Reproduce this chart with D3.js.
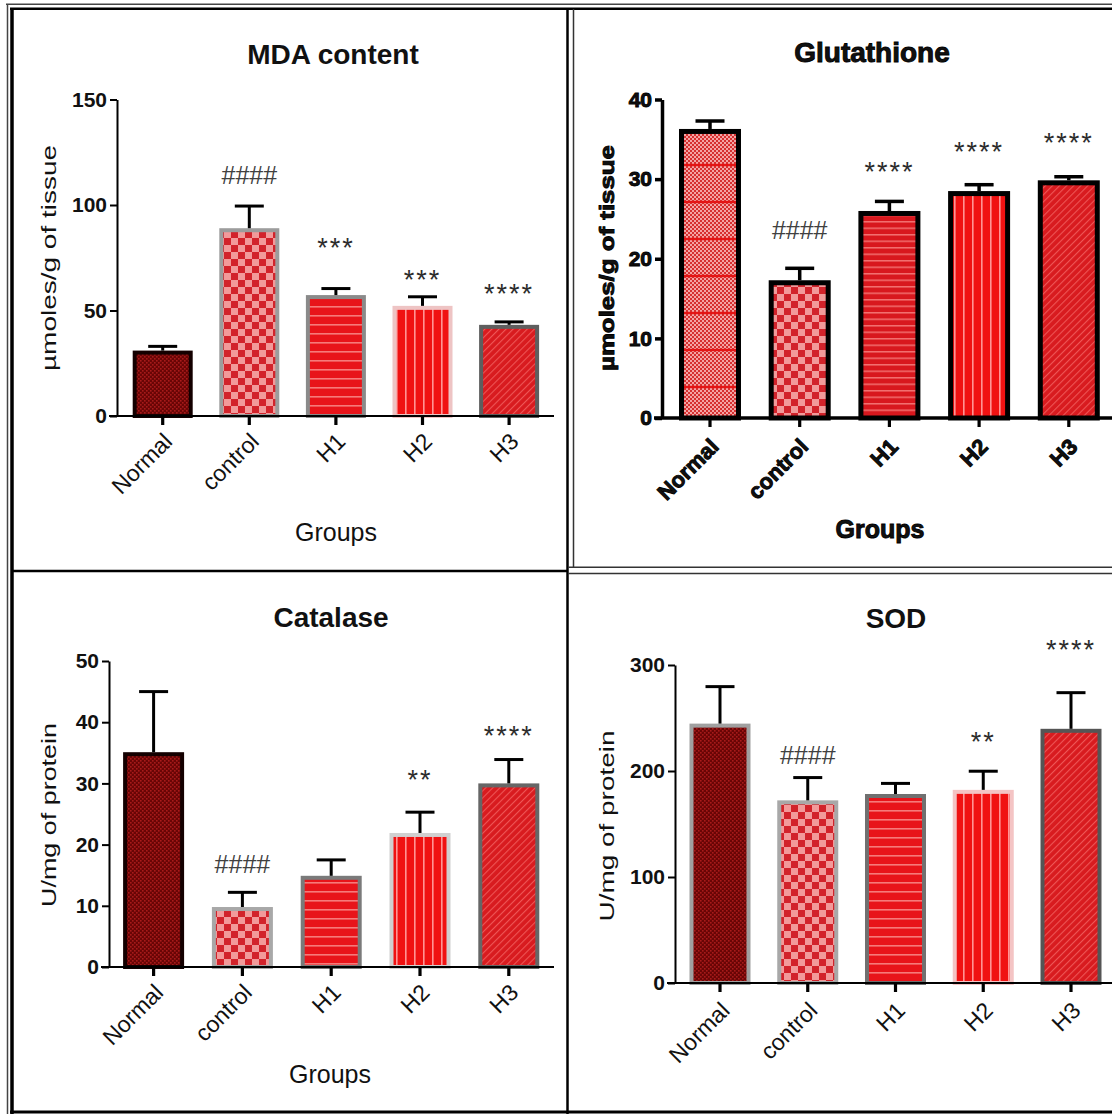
<!DOCTYPE html>
<html>
<head>
<meta charset="utf-8">
<script src="https://cdn.jsdelivr.net/npm/d3@7"></script>
<style>
  body { margin: 0; background: #fff; }
  svg { display: block; font-family: "Liberation Sans", Arial, sans-serif; }
</style>
</head>
<body>
<div id="chart"></div>
<script>
// Groups shared by the four panels
const groups = ["Normal", "control", "H1", "H2", "H3"];

// MDA content (µmoles/g of tissue)
const mdaMean = [31, 89, 57.3, 52.2, 43.2];
const mdaUpper = [33, 99.5, 60.4, 56.5, 44.6];
const mdaMarks = ["", "####", "***", "***", "****"];
const mdaMarkAt = [null, 114, 82.6, 67.4, 60.5];
const mdaTicks = [0, 50, 100, 150];

// Glutathione (µmoles/g of tissue)
const gshMean = [36.3, 17.3, 26.0, 28.5, 29.85];
const gshUpper = [37.3, 18.8, 27.2, 29.3, 30.3];
const gshMarks = ["", "####", "****", "****", "****"];
const gshMarkAt = [null, 23.5, 31.7, 34.2, 35.25];
const gshTicks = [0, 10, 20, 30, 40];

// Catalase (U/mg of protein)
const catMean = [35.1, 9.8, 14.9, 21.9, 30.0];
const catUpper = [45.0, 12.2, 17.5, 25.3, 33.9];
const catMarks = ["", "####", "", "**", "****"];
const catMarkAt = [null, 16.8, null, 31.6, 38.8];
const catTicks = [0, 10, 20, 30, 40, 50];

// SOD (U/mg of protein)
const sodMean = [244.7, 172.3, 178.3, 182.2, 239.8];
const sodUpper = [279.6, 193.8, 188.3, 199.8, 273.9];
const sodMarks = ["", "####", "", "**", "****"];
const sodMarkAt = [null, 214.8, null, 233.2, 320.2];
const sodTicks = [0, 100, 200, 300];

const svg = d3.select("#chart").append("svg")
    .attr("width", 1112)
    .attr("height", 1115);
const defs = svg.append("defs");

// Fill patterns (GraphPad style)
function makePattern(id, w, h, bg, draw, rot) {
    const p = defs.append("pattern")
        .attr("id", id)
        .attr("patternUnits", "userSpaceOnUse")
        .attr("width", w)
        .attr("height", h);
    if (rot) p.attr("patternTransform", `rotate(${rot})`);
    if (bg) p.append("rect").attr("width", w).attr("height", h).attr("fill", bg);
    draw(p);
}
const sq = (p, x, y, w, h, c) => p.append("rect").attr("x", x).attr("y", y).attr("width", w).attr("height", h).attr("fill", c);

makePattern("dots", 4, 4, "#6a0505", p => { sq(p, 0, 0, 1.6, 1.6, "#a81a1a"); sq(p, 2, 2, 1.6, 1.6, "#a81a1a"); });
makePattern("check", 14, 14, "#f29a9a", p => { sq(p, 0, 0, 7, 7, "#d2232b"); sq(p, 7, 7, 7, 7, "#d2232b"); });
makePattern("hstripe", 9, 9, "#e8141a", p => sq(p, 0, 0, 9, 1.6, "#f67a7a"));
makePattern("hstripeFine", 6.5, 6.5, "#d8181e", p => sq(p, 0, 0, 6.5, 1.5, "#f27070"));
makePattern("vstripe", 9, 9, "#f01212", p => sq(p, 0, 0, 1.6, 9, "#ff9494"));
makePattern("diag", 5, 5, "#d81b1f", p => sq(p, 0, 0, 1.1, 5, "#ee5656"), 45);
makePattern("fineCheck", 4, 4, "#f4a4a4", p => { sq(p, 0, 0, 2, 2, "#d63030"); sq(p, 2, 2, 2, 2, "#d63030"); });
makePattern("redLines", 10, 37, null, p => sq(p, 0, 15.8, 10, 2.4, "#e41414"));

// Frame lines around the four panels
function frameLine(x1, y1, x2, y2, w, c) {
    svg.append("line").attr("x1", x1).attr("y1", y1).attr("x2", x2).attr("y2", y2)
        .attr("stroke", c).attr("stroke-width", w);
}
frameLine(7.5, 4, 7.5, 1114, 1.5, "#444");
frameLine(12, 8, 12, 1114, 3.5, "#000");
frameLine(6, 4.2, 1112, 4.2, 1.5, "#444");
frameLine(10, 8.7, 1112, 8.7, 2.6, "#000");
frameLine(567.5, 8, 567.5, 1114, 2.5, "#000");
frameLine(573.5, 9, 573.5, 567, 1.5, "#333");
frameLine(12, 571, 568, 571, 2.6, "#000");
frameLine(568, 567.3, 1112, 567.3, 1.5, "#333");
frameLine(568, 573.5, 1112, 573.5, 1.5, "#333");
frameLine(10, 1112, 1112, 1112, 3, "#000");

function drawPanel(cfg) {
    const g = svg.append("g");
    const font = cfg.heavy ? "bold" : "normal";
    const heavyStroke = sel => {
        if (cfg.heavy) sel.attr("stroke", "#000").attr("stroke-width", 0.9);
    };

    const y = d3.scaleLinear().domain([0, cfg.yMax]).range([cfg.y0, cfg.yTop]);
    const pad = 1 - cfg.bw / cfg.step;
    const x = d3.scaleBand().domain(groups)
        .range([cfg.c0 - cfg.step / 2, cfg.c0 + 4.5 * cfg.step])
        .paddingInner(pad).paddingOuter(pad / 2);

    const rows = groups.map((k, i) => ({
        key: k, mean: cfg.mean[i], upper: cfg.upper[i],
        mark: cfg.marks[i], markAt: cfg.markAt[i],
        fills: cfg.fills[i], stroke: cfg.strokes[i]
    }));

    // bars: one rect per fill layer, then the border
    rows.forEach(d => {
        const sw = cfg.barStroke;
        const bx = x(d.key) + sw / 2, by = y(d.mean) + sw / 2;
        const bw = x.bandwidth() - sw, bh = y(0) - y(d.mean) - sw / 2;
        d.fills.forEach(f => {
            g.append("rect").attr("x", bx).attr("y", by).attr("width", bw).attr("height", bh)
                .attr("fill", `url(#${f})`);
        });
        g.append("rect").attr("x", bx).attr("y", by).attr("width", bw).attr("height", bh)
            .attr("fill", "none").attr("stroke", d.stroke).attr("stroke-width", sw);
    });

    // upper error bars
    const err = g.append("g").attr("stroke", "#000").attr("stroke-width", cfg.heavy ? 3.5 : 3);
    rows.forEach(d => {
        const cx = x(d.key) + x.bandwidth() / 2;
        err.append("line").attr("x1", cx).attr("x2", cx).attr("y1", y(d.mean)).attr("y2", y(d.upper));
        err.append("line").attr("x1", cx - 14.5).attr("x2", cx + 14.5).attr("y1", y(d.upper)).attr("y2", y(d.upper));
    });

    // significance marks
    rows.filter(d => d.mark).forEach(d => {
        const cx = x(d.key) + x.bandwidth() / 2;
        const star = d.mark[0] === "*";
        g.append("text")
            .attr("x", cx)
            .attr("y", y(d.markAt) + (star ? 15 : 8.5))
            .attr("text-anchor", "middle")
            .attr("font-size", star ? 27 : 25)
            .attr("letter-spacing", star ? 2 : 0)
            .attr("fill", star ? "#2c2c2c" : "#404040")
            .text(d.mark);
    });

    // y axis
    const yAxis = g.append("g")
        .attr("transform", `translate(${cfg.axisX},0)`)
        .call(d3.axisLeft(y).tickValues(cfg.ticks).tickSize(7).tickSizeOuter(0).tickPadding(3));
    yAxis.select(".domain").attr("stroke", "#000").attr("stroke-width", cfg.axisW);
    yAxis.selectAll(".tick line").attr("stroke", "#000").attr("stroke-width", cfg.axisW);
    yAxis.selectAll(".tick text")
        .attr("font-size", cfg.numSize).attr("font-weight", "bold")
        .attr("font-family", "Liberation Sans, Arial, sans-serif")
        .attr("fill", "#111").call(heavyStroke);

    // x axis
    g.append("line")
        .attr("x1", cfg.axisX - 8).attr("x2", cfg.axisEnd)
        .attr("y1", cfg.y0).attr("y2", cfg.y0)
        .attr("stroke", "#000").attr("stroke-width", cfg.axisW);
    const xAxis = g.append("g")
        .attr("transform", `translate(0,${cfg.y0})`)
        .call(d3.axisBottom(x).tickSize(9).tickSizeOuter(0));
    xAxis.select(".domain").remove();
    xAxis.selectAll(".tick line").attr("stroke", "#000").attr("stroke-width", 3.2);
    xAxis.selectAll(".tick text")
        .attr("x", 0).attr("y", 0).attr("dy", 0)
        .attr("transform", `translate(${cfg.lblDx},${cfg.lblDy}) rotate(-45)`)
        .attr("text-anchor", "end")
        .attr("font-size", cfg.catSize).attr("font-weight", font)
        .attr("font-family", "Liberation Sans, Arial, sans-serif")
        .attr("fill", "#111").call(heavyStroke);

    // title and axis titles
    g.append("text")
        .attr("x", cfg.titleX).attr("y", cfg.titleY)
        .attr("text-anchor", "middle")
        .attr("font-size", 28).attr("font-weight", "bold")
        .attr("fill", "#111")
        .call(heavyStroke)
        .text(cfg.title);

    g.append("text")
        .attr("transform", `translate(${cfg.yLabelX},${cfg.yLabelY}) rotate(-90)`)
        .attr("text-anchor", "middle")
        .attr("font-size", 21).attr("font-weight", font)
        .attr("textLength", cfg.yLabelLen).attr("lengthAdjust", "spacingAndGlyphs")
        .attr("fill", "#111")
        .call(heavyStroke)
        .text(cfg.yLabel);

    if (cfg.xLabel) {
        g.append("text")
            .attr("x", cfg.xLabelX).attr("y", cfg.xLabelY)
            .attr("text-anchor", "middle")
            .attr("font-size", 25).attr("font-weight", font)
            .attr("fill", "#111")
            .call(heavyStroke)
            .text(cfg.xLabel);
    }
}

drawPanel({
    title: "MDA content", titleX: 333, titleY: 64,
    yLabel: "µmoles/g of tissue", yLabelX: 56, yLabelY: 258, yLabelLen: 226,
    xLabel: "Groups", xLabelX: 336, xLabelY: 541,
    mean: mdaMean, upper: mdaUpper, marks: mdaMarks, markAt: mdaMarkAt, ticks: mdaTicks,
    yMax: 150, y0: 416, yTop: 99.5, axisX: 117, axisEnd: 554,
    c0: 162.7, step: 86.6, bw: 60, barStroke: 4, axisW: 2,
    numSize: 21, catSize: 23, lblDx: 11, lblDy: 27,
    fills: [["dots"], ["check"], ["hstripe"], ["vstripe"], ["diag"]],
    strokes: ["#140000", "#9c9c9c", "#8a8a8a", "#eec4c4", "#5e5e5e"]
});

drawPanel({
    title: "Glutathione", titleX: 872, titleY: 62, heavy: true,
    yLabel: "µmoles/g of tissue", yLabelX: 614, yLabelY: 258, yLabelLen: 226,
    xLabel: "Groups", xLabelX: 880, xLabelY: 538,
    mean: gshMean, upper: gshUpper, marks: gshMarks, markAt: gshMarkAt, ticks: gshTicks,
    yMax: 40, y0: 418, yTop: 99.5, axisX: 662, axisEnd: 1112,
    c0: 710, step: 89.7, bw: 62, barStroke: 5, axisW: 3.5,
    numSize: 21, catSize: 22, lblDx: 10, lblDy: 30,
    fills: [["fineCheck", "redLines"], ["check"], ["hstripeFine"], ["vstripe"], ["diag"]],
    strokes: ["#000", "#000", "#000", "#000", "#000"]
});

drawPanel({
    title: "Catalase", titleX: 331, titleY: 627,
    yLabel: "U/mg of protein", yLabelX: 56, yLabelY: 815, yLabelLen: 184,
    xLabel: "Groups", xLabelX: 330, xLabelY: 1083,
    mean: catMean, upper: catUpper, marks: catMarks, markAt: catMarkAt, ticks: catTicks,
    yMax: 50, y0: 967, yTop: 661, axisX: 109, axisEnd: 554,
    c0: 153.6, step: 88.8, bw: 61, barStroke: 4, axisW: 2,
    numSize: 21, catSize: 23, lblDx: 11, lblDy: 27,
    fills: [["dots"], ["check"], ["hstripe"], ["vstripe"], ["diag"]],
    strokes: ["#140000", "#a8a8a8", "#7a7a7a", "#d0d0d0", "#666"]
});

drawPanel({
    title: "SOD", titleX: 896, titleY: 628,
    yLabel: "U/mg of protein", yLabelX: 614, yLabelY: 826, yLabelLen: 191,
    xLabel: null,
    mean: sodMean, upper: sodUpper, marks: sodMarks, markAt: sodMarkAt, ticks: sodTicks,
    yMax: 300, y0: 983, yTop: 665, axisX: 675, axisEnd: 1112,
    c0: 720, step: 87.75, bw: 61, barStroke: 4, axisW: 2,
    numSize: 21, catSize: 23, lblDx: 11, lblDy: 29,
    fills: [["dots"], ["check"], ["hstripe"], ["vstripe"], ["diag"]],
    strokes: ["#a0a0a0", "#a8a8a8", "#707070", "#f4c4c4", "#555"]
});
</script>
</body>
</html>
